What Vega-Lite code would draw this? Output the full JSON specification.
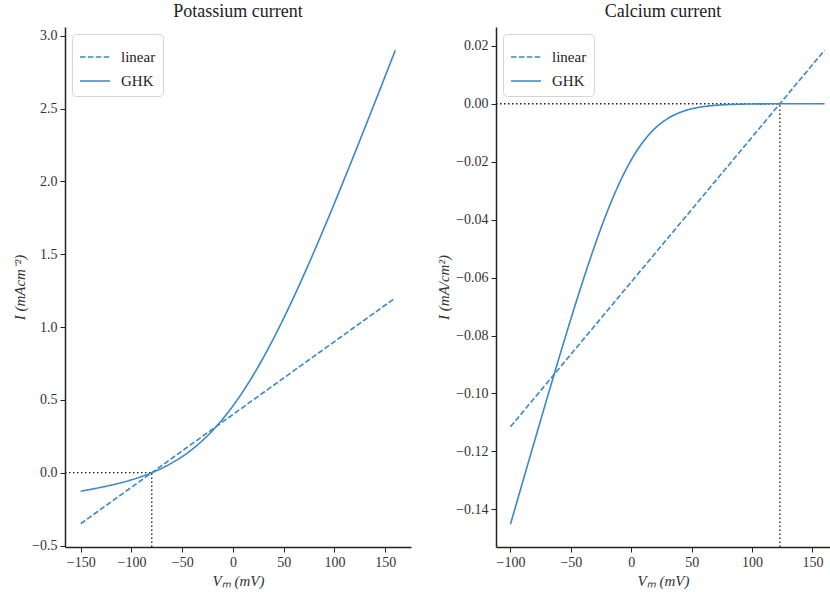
{
  "$schema": "https://vega.github.io/schema/vega-lite/v6.json",
  "background": "white",
  "padding": {"left": 12, "top": 3, "right": 0, "bottom": 5},
  "spacing": 25,
  "config": {
    "font": "Liberation Serif",
    "view": {"stroke": null},
    "axis": {
      "grid": false, "domainColor": "#222", "domainWidth": 1.5, "tickColor": "#222", "tickSize": 5, "tickWidth": 1,
      "labelFont": "Liberation Serif", "labelFontSize": 14, "labelColor": "#333", "labelPadding": 3,
      "titleFont": "Liberation Serif", "titleFontSize": 15, "titleFontStyle": "italic", "titleFontWeight": "normal", "titleColor": "#333"
    },
    "title": {"font": "Liberation Serif", "fontSize": 18, "fontWeight": "normal", "color": "#222", "offset": 6},
    "legend": {
      "orient": "top-left", "offset": 7, "padding": 7, "fillColor": "white", "strokeColor": "#d6d6d6", "cornerRadius": 4,
      "labelFont": "Liberation Serif", "labelFontSize": 15, "labelColor": "#222", "labelOffset": 10,
      "symbolType": "stroke", "symbolSize": 900, "symbolStrokeWidth": 1.6, "symbolStrokeColor": "#3a87c9", "rowPadding": 0
    }
  },
  "datasets": {
    "kCurves": [
      {"series": "linear", "V": -150, "I": -0.35},
      {"series": "linear", "V": 160, "I": 1.2},
      {"series": "GHK", "V": -150, "I": -0.1263},
      {"series": "GHK", "V": -140, "I": -0.1138},
      {"series": "GHK", "V": -130, "I": -0.1002},
      {"series": "GHK", "V": -120, "I": -0.0852},
      {"series": "GHK", "V": -110, "I": -0.0682},
      {"series": "GHK", "V": -100, "I": -0.0488},
      {"series": "GHK", "V": -90, "I": -0.0263},
      {"series": "GHK", "V": -80, "I": 0.0},
      {"series": "GHK", "V": -70, "I": 0.0309},
      {"series": "GHK", "V": -60, "I": 0.0676},
      {"series": "GHK", "V": -50, "I": 0.1107},
      {"series": "GHK", "V": -40, "I": 0.1616},
      {"series": "GHK", "V": -30, "I": 0.2211},
      {"series": "GHK", "V": -20, "I": 0.29},
      {"series": "GHK", "V": -10, "I": 0.369},
      {"series": "GHK", "V": 0, "I": 0.4586},
      {"series": "GHK", "V": 10, "I": 0.5589},
      {"series": "GHK", "V": 20, "I": 0.6697},
      {"series": "GHK", "V": 30, "I": 0.7905},
      {"series": "GHK", "V": 40, "I": 0.9211},
      {"series": "GHK", "V": 50, "I": 1.06},
      {"series": "GHK", "V": 60, "I": 1.2066},
      {"series": "GHK", "V": 70, "I": 1.3598},
      {"series": "GHK", "V": 80, "I": 1.5187},
      {"series": "GHK", "V": 90, "I": 1.6822},
      {"series": "GHK", "V": 100, "I": 1.8496},
      {"series": "GHK", "V": 110, "I": 2.02},
      {"series": "GHK", "V": 120, "I": 2.1929},
      {"series": "GHK", "V": 130, "I": 2.3677},
      {"series": "GHK", "V": 140, "I": 2.544},
      {"series": "GHK", "V": 150, "I": 2.7214},
      {"series": "GHK", "V": 160, "I": 2.8996}
    ],
    "kGuides": [
      {"V": -165.5, "V2": -80, "I": 0, "I2": 0},
      {"V": -80, "V2": -80, "I": -0.51, "I2": 0}
    ],
    "caCurves": [
      {"series": "linear", "V": -100, "I": -0.1115},
      {"series": "linear", "V": 160, "I": 0.0185},
      {"series": "GHK", "V": -100, "I": -0.1451},
      {"series": "GHK", "V": -90, "I": -0.13065},
      {"series": "GHK", "V": -80, "I": -0.1163},
      {"series": "GHK", "V": -70, "I": -0.10204},
      {"series": "GHK", "V": -60, "I": -0.08798},
      {"series": "GHK", "V": -50, "I": -0.07426},
      {"series": "GHK", "V": -40, "I": -0.06105},
      {"series": "GHK", "V": -35, "I": -0.05473},
      {"series": "GHK", "V": -30, "I": -0.04864},
      {"series": "GHK", "V": -25, "I": -0.04283},
      {"series": "GHK", "V": -20, "I": -0.03735},
      {"series": "GHK", "V": -15, "I": -0.03223},
      {"series": "GHK", "V": -10, "I": -0.02751},
      {"series": "GHK", "V": -5, "I": -0.02321},
      {"series": "GHK", "V": 0, "I": -0.01936},
      {"series": "GHK", "V": 5, "I": -0.01596},
      {"series": "GHK", "V": 10, "I": -0.013},
      {"series": "GHK", "V": 15, "I": -0.01047},
      {"series": "GHK", "V": 20, "I": -0.00835},
      {"series": "GHK", "V": 25, "I": -0.00658},
      {"series": "GHK", "V": 30, "I": -0.00514},
      {"series": "GHK", "V": 35, "I": -0.00397},
      {"series": "GHK", "V": 40, "I": -0.00305},
      {"series": "GHK", "V": 45, "I": -0.002315},
      {"series": "GHK", "V": 50, "I": -0.00175},
      {"series": "GHK", "V": 60, "I": -0.00097},
      {"series": "GHK", "V": 70, "I": -0.00053},
      {"series": "GHK", "V": 80, "I": -0.00028},
      {"series": "GHK", "V": 90, "I": -0.000141},
      {"series": "GHK", "V": 100, "I": -0.0000664},
      {"series": "GHK", "V": 110, "I": -0.0000262},
      {"series": "GHK", "V": 120, "I": -0.0000043},
      {"series": "GHK", "V": 130, "I": 0.0000077},
      {"series": "GHK", "V": 140, "I": 0.0000147},
      {"series": "GHK", "V": 150, "I": 0.0000189},
      {"series": "GHK", "V": 160, "I": 0.0000218}
    ],
    "caGuides": [
      {"V": -112, "V2": 123, "I": 0, "I2": 0},
      {"V": 123, "V2": 123, "I": -0.153, "I2": 0}
    ]
  },
  "resolve": {"scale": {"strokeDash": "independent", "x": "independent", "y": "independent"}, "legend": {"strokeDash": "independent"}},
  "hconcat": [
    {
      "width": 346, "height": 520,
      "title": {"text": "Potassium current"},
      "layer": [
        {
          "data": {"name": "kGuides"},
          "mark": {"type": "rule", "strokeDash": [1.5, 2.5], "color": "#222", "strokeWidth": 1.3},
          "encoding": {
            "x": {"field": "V", "type": "quantitative", "title": "Vₘ (mV)", "scale": {"domain": [-165.5, 175.5], "nice": false, "zero": false}, "axis": {"values": [-150, -100, -50, 0, 50, 100, 150]}},
            "x2": {"field": "V2"},
            "y": {"field": "I", "type": "quantitative", "title": "I (mAcm⁻²)", "scale": {"domain": [-0.51, 3.06], "nice": false, "zero": false}, "axis": {"values": [-0.5, 0, 0.5, 1, 1.5, 2, 2.5, 3], "format": ".1f"}},
            "y2": {"field": "I2"}
          }
        },
        {
          "data": {"name": "kCurves"},
          "mark": {"type": "line", "color": "#3a87c9", "strokeWidth": 1.6, "interpolate": "monotone"},
          "encoding": {
            "x": {"field": "V", "type": "quantitative", "title": "Vₘ (mV)"},
            "y": {"field": "I", "type": "quantitative", "title": "I (mAcm⁻²)"},
            "strokeDash": {"field": "series", "type": "nominal", "scale": {"domain": ["linear", "GHK"], "range": [[5.5, 2.4], [1, 0]]}, "legend": {"title": null}}
          }
        }
      ]
    },
    {
      "width": 334, "height": 520,
      "title": {"text": "Calcium current"},
      "layer": [
        {
          "data": {"name": "caGuides"},
          "mark": {"type": "rule", "strokeDash": [1.5, 2.5], "color": "#222", "strokeWidth": 1.3},
          "encoding": {
            "x": {"field": "V", "type": "quantitative", "title": "Vₘ (mV)", "scale": {"domain": [-112, 164.5], "nice": false, "zero": false}, "axis": {"values": [-100, -50, 0, 50, 100, 150]}},
            "x2": {"field": "V2"},
            "y": {"field": "I", "type": "quantitative", "title": "I (mA/cm²)", "scale": {"domain": [-0.153, 0.0265], "nice": false, "zero": false}, "axis": {"values": [-0.14, -0.12, -0.1, -0.08, -0.06, -0.04, -0.02, 0, 0.02], "format": ".2f"}},
            "y2": {"field": "I2"}
          }
        },
        {
          "data": {"name": "caCurves"},
          "mark": {"type": "line", "color": "#3a87c9", "strokeWidth": 1.6, "interpolate": "monotone"},
          "encoding": {
            "x": {"field": "V", "type": "quantitative", "title": "Vₘ (mV)"},
            "y": {"field": "I", "type": "quantitative", "title": "I (mA/cm²)"},
            "strokeDash": {"field": "series", "type": "nominal", "scale": {"domain": ["linear", "GHK"], "range": [[5.5, 2.4], [1, 0]]}, "legend": {"title": null}}
          }
        }
      ]
    }
  ]
}
